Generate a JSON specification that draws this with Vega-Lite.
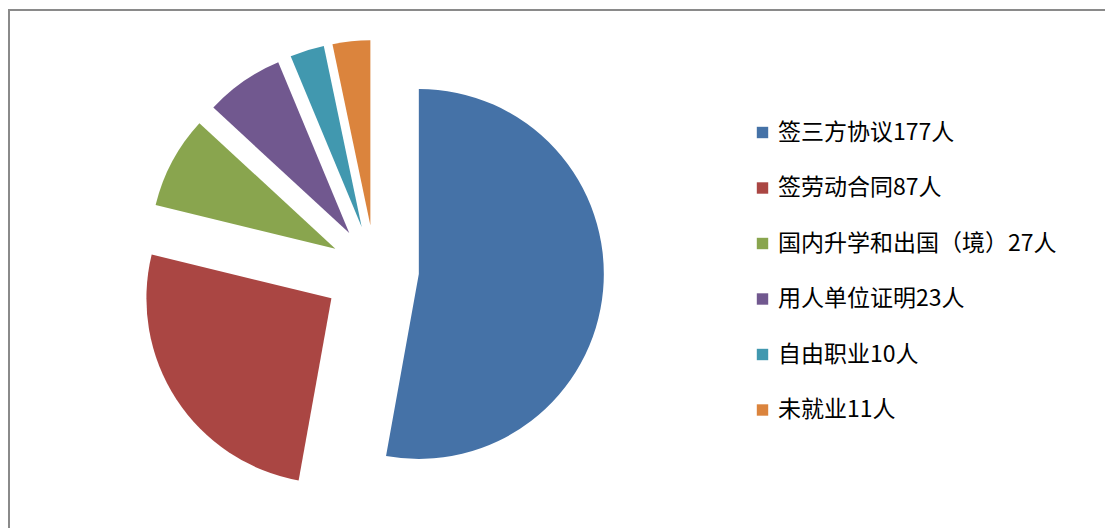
{
  "$schema": "https://vega.github.io/schema/vega-lite/v6.json",
  "width": 1130,
  "height": 540,
  "autosize": {"type": "none"},
  "padding": {"left": 9, "top": 10, "right": 0, "bottom": 0},
  "background": "white",
  "view": {"stroke": "#8a8a8a", "strokeWidth": 2},
  "data": {
    "values": [
      {"idx": 1, "cat": "签三方协议177人", "n": 177},
      {"idx": 2, "cat": "签劳动合同87人", "n": 87},
      {"idx": 3, "cat": "国内升学和出国（境）27人", "n": 27},
      {"idx": 4, "cat": "用人单位证明23人", "n": 23},
      {"idx": 5, "cat": "自由职业10人", "n": 10},
      {"idx": 6, "cat": "未就业11人", "n": 11}
    ]
  },
  "mark": {
    "type": "arc",
    "outerRadius": 185,
    "x": 366,
    "y": 260,
    "xOffset": {"expr": "(datum.idx == 1 ? 44 : datum.idx == 2 ? 52 : 45) * sin((scale('theta', datum.n_start) + scale('theta', datum.n_end)) / 2)"},
    "yOffset": {"expr": "-(datum.idx == 1 ? 44 : datum.idx == 2 ? 52 : 45) * cos((scale('theta', datum.n_start) + scale('theta', datum.n_end)) / 2)"}
  },
  "encoding": {
    "theta": {"field": "n", "type": "quantitative", "stack": true},
    "order": {"field": "idx", "type": "quantitative"},
    "color": {
      "field": "cat",
      "type": "nominal",
      "sort": {"field": "idx"},
      "scale": {"range": ["#4572A7", "#AA4643", "#89A54E", "#71588F", "#4198AF", "#DB843D"]},
      "legend": {
        "title": null,
        "orient": "none",
        "legendX": 742,
        "legendY": 111,
        "padding": 0,
        "symbolType": "square",
        "symbolSize": 130,
        "symbolStrokeWidth": 0,
        "symbolOpacity": 1,
        "labelFont": "Noto Sans CJK SC",
        "labelFontSize": 23,
        "labelColor": "#000000",
        "labelOffset": 4,
        "labelLimit": 400,
        "rowPadding": 31.5
      }
    }
  }
}
